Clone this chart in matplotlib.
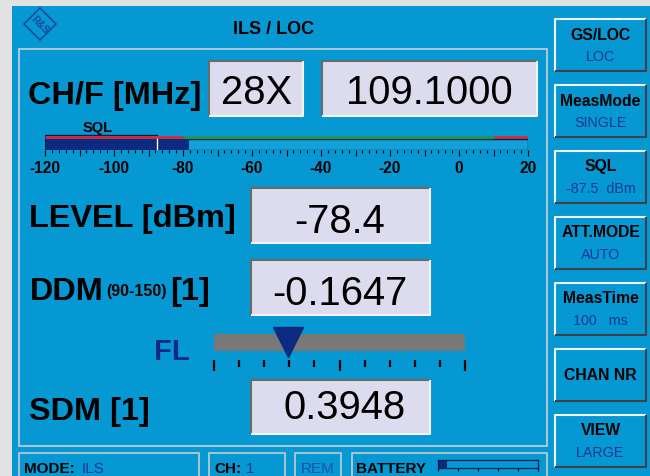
import matplotlib
matplotlib.use("Agg")
import matplotlib.pyplot as plt
import numpy as np
from matplotlib.patches import Rectangle, Polygon

# readings shown on the ILS / LOC screen
channel = "28X"
freq_mhz = 109.1
level_dbm = -78.4
sql_dbm = -87.5
ddm = -0.1647
sdm = 0.3948
battery_pct = 9

level_range = [-120, 20]
level_labels = [-120, -100, -80, -60, -40, -20, 0, 20]
limit_edges = [-120, -80, 10, 20]
limit_colors = ["#e8202a", "#12a040", "#e8202a"]
ddm_range = [-0.4, 0.4]

button_titles = ["GS/LOC", "MeasMode", "SQL", "ATT.MODE", "MeasTime", "CHAN NR", "VIEW"]
button_values = ["LOC", "SINGLE", "-87.5  dBm", "AUTO", "100   ms", "", "LARGE"]

BLUE = "#0598d2"
NAVY = "#0c2a80"
TEXTBLUE = "#1a3890"
BOXFILL = "#dcdcee"
FONT = ["Liberation Sans", "DejaVu Sans"]
plt.rcParams["font.family"] = FONT

W, H = 650, 477
fig = plt.figure(figsize=(W / 100, H / 100), dpi=100)
fig.patch.set_facecolor("#e2e2e2")

bg = fig.add_axes([0, 0, 1, 1])
bg.set_xlim(0, W)
bg.set_ylim(H, 0)
bg.axis("off")


def px_axes(x0, y0, x1, y1):
    return fig.add_axes([x0 / W, 1 - y1 / H, (x1 - x0) / W, (y1 - y0) / H])


def edge_box(x0, y0, x1, y1, fill, tl, br, lw=1.5):
    bg.add_patch(Rectangle((x0, y0), x1 - x0, y1 - y0, facecolor=fill, edgecolor="none"))
    bg.plot([x0, x0, x1], [y1, y0, y0], color=tl, lw=lw, solid_capstyle="butt")
    bg.plot([x0, x1, x1], [y1, y1, y0], color=br, lw=lw, solid_capstyle="butt")


# screen background
bg.add_patch(Rectangle((12, 7), W - 12, H - 7, facecolor=BLUE, edgecolor="none"))

# logo
bg.add_patch(Polygon([[40, 9], [56, 25], [40, 41], [24, 25]], closed=True,
                     fill=False, edgecolor="#1a4a9c", lw=1.2))
bg.text(40, 25, "R&S", rotation=-45, ha="center", va="center", fontsize=7,
        color="#1a4a9c", fontweight="bold")

bg.text(274, 29, "ILS / LOC", ha="center", va="center", fontsize=13, fontweight="bold")

# main frame
bg.add_patch(Rectangle((19, 50), 528, 397, fill=False, edgecolor="#c8d0d8", lw=1.2))

# big labels and value boxes
big = dict(fontsize=23.4, fontweight="bold", va="baseline", ha="left")
val = dict(fontsize=28.8, va="baseline", ha="center")

bg.text(28, 104, "CH/F [MHz]", **big)
edge_box(209, 62, 303, 117, BOXFILL, "#6a6a6a", "#f4f4f4")
bg.text(257, 104, channel, **val)
edge_box(322, 62, 537, 117, BOXFILL, "#6a6a6a", "#f4f4f4")
bg.text(429, 104, f"{freq_mhz:.4f}", **val)

bg.text(29, 227, "LEVEL [dBm]", **big)
edge_box(251, 189, 430, 244, BOXFILL, "#6a6a6a", "#f4f4f4")
bg.text(340, 233, f"{level_dbm:.1f}", **val)

bg.text(30, 300, "DDM", **big)
bg.text(106, 296, "(90-150)", fontsize=11.5, fontweight="bold", va="baseline")
bg.text(170, 300, "[1]", **big)
edge_box(251, 261, 430, 316, BOXFILL, "#6a6a6a", "#f4f4f4")
bg.text(340, 305, f"{ddm:.4f}", **val)

bg.text(29, 420, "SDM [1]", **big)
edge_box(251, 381, 430, 435, BOXFILL, "#6a6a6a", "#f4f4f4")
bg.text(345, 419, f"{sdm:.4f}", **val)

bg.text(172, 360, "FL", fontsize=21, fontweight="bold", color=NAVY, ha="center", va="baseline")
bg.text(98, 132, "SQL", fontsize=10.5, fontweight="bold", ha="center", va="baseline")

# level bar graph
lv = px_axes(45, 135, 528, 151)
lv.set_xlim(*level_range)
lv.set_ylim(16, 0)
lv.set_facecolor("none")
for s in lv.spines.values():
    s.set_visible(False)
span = level_range[1] - level_range[0]
lv.barh(10.5, span, left=level_range[0], height=11, color="#12a0d8", edgecolor="#0a1e4a", lw=1.0)
lv.barh(10.5, level_dbm - level_range[0], left=level_range[0], height=11, color=NAVY, edgecolor="none")
lv.barh(8.7, sql_dbm - level_range[0], left=level_range[0], height=15.2, fill=False,
        edgecolor="#0a1e4a", lw=1.0)
lv.vlines(sql_dbm, 2, 16, color="white", lw=1.0)
lv.hlines([2.6] * 3, limit_edges[:-1], limit_edges[1:], colors=limit_colors, lw=1.8)
lv.set_yticks([])
major = np.arange(level_range[0], level_range[1] + 1, 10)
lv.set_xticks(major)
lv.set_xticklabels([str(v) if v in level_labels else "" for v in major])
lv.set_xticks(np.arange(level_range[0], level_range[1] + 1, 2), minor=True)
lv.tick_params(axis="x", which="major", length=4, width=0.8, direction="out", pad=3,
               labelsize=11.2)
lv.tick_params(axis="x", which="minor", length=2.5, width=0.8, direction="out")
for t in lv.get_xticklabels():
    t.set_fontweight("bold")

# DDM needle indicator
dd = px_axes(214, 326, 465, 373)
dd.set_xlim(*ddm_range)
dd.set_ylim(47, 0)
dd.axis("off")
dd.barh(17.5, ddm_range[1] - ddm_range[0], left=ddm_range[0], height=17, color="#787878")
tick_pos = np.linspace(ddm_range[0], ddm_range[1], 11)
tall = [0, 5, 10]
for i, tp in enumerate(tick_pos):
    dd.vlines(tp, 35, 46 if i in tall else 42, color="black", lw=1.6, clip_on=False)
dd.plot([ddm], [16.5], marker="v", ms=21.6, color=NAVY, mec=NAVY, clip_on=False)

# soft keys on the right
for i, (t, v) in enumerate(zip(button_titles, button_values)):
    y0 = 20 + i * 66
    edge_box(555, y0, 646, y0 + 52, BLUE, "#f4f4f4", "#404048", lw=1.5)
    if v:
        bg.text(600.5, y0 + 15, t, ha="center", va="center", fontsize=11.3, fontweight="bold")
        bg.text(600.5, y0 + 37, v, ha="center", va="center", fontsize=10.3, color=TEXTBLUE)
    else:
        bg.text(600.5, y0 + 26, t, ha="center", va="center", fontsize=11.3, fontweight="bold")

# status line
for x0, x1 in [(19, 199), (209, 285), (295, 341), (352, 547)]:
    bg.plot([x0, x0, x1, x1], [H + 2, 454, 454, H + 2], color="#c8ccd0", lw=1.2)
st = dict(fontsize=11, va="baseline")
bg.text(24, 473, "MODE:", fontweight="bold", **st)
bg.text(82, 473, "ILS", color=TEXTBLUE, **st)
bg.text(214, 473, "CH:", fontweight="bold", **st)
bg.text(246, 473, "1", color=TEXTBLUE, **st)
bg.text(318, 473, "REM", color="#1e50a8", ha="center", **st)
bg.text(356, 473, "BATTERY", fontweight="bold", **st)

bt = px_axes(438, 461, 538, 469)
bt.set_xlim(0, 100)
bt.set_ylim(0, 1)
bt.set_facecolor("none")
bt.set_yticks([])
for s in bt.spines.values():
    s.set_color("#0a1e4a")
    s.set_linewidth(0.9)
bt.barh(0.5, battery_pct, height=1, color=NAVY)
bt.set_xticks(np.arange(0, 101, 20))
bt.set_xticklabels([])
bt.tick_params(axis="x", length=2.5, width=0.8, direction="out", pad=1)

fig.savefig("out.png", dpi=100, facecolor=fig.get_facecolor())
